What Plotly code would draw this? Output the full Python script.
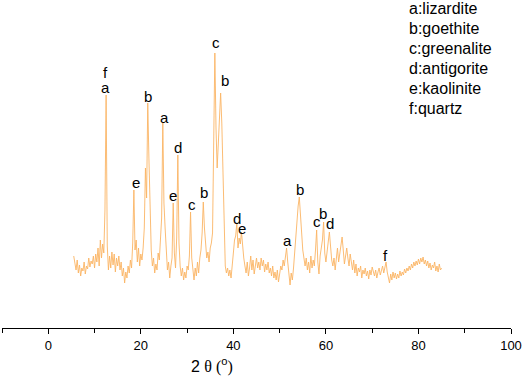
import numpy as np
import plotly.graph_objects as go

# 2-theta scan grid (degrees), step 0.25
theta_start = 5.5
theta_step = 0.25

# Intensity (a.u.)
intensity = [
    72, 66, 58, 68, 55, 63, 52, 60, 57, 66, 54, 62, 59, 70, 61, 67, 64, 72, 60, 74,
    66, 80, 62, 88, 70, 84, 75, 118, 233, 82, 58, 72, 60, 76, 63, 74, 56, 70, 62, 72,
    58, 66, 52, 60, 45, 56, 50, 62, 55, 68, 60, 85, 138, 78, 88, 66, 80, 62, 74, 68,
    80, 100, 160, 130, 225, 170, 110, 78, 62, 70, 55, 64, 58, 75, 68, 90, 110, 205, 125, 100,
    72, 58, 66, 50, 62, 70, 125, 75, 60, 90, 173, 85, 62, 52, 60, 48, 56, 50, 62, 58,
    72, 116, 70, 58, 48, 60, 52, 66, 55, 70, 78, 95, 126, 100, 82, 70, 76, 66, 80, 85,
    95, 170, 275, 200, 160, 185, 215, 235, 205, 150, 90, 62, 55, 60, 52, 58, 50, 68, 75, 88,
    92, 105, 80, 90, 84, 96, 78, 70, 62, 55, 66, 52, 60, 72, 58, 68, 54, 64, 70, 60,
    66, 58, 70, 62, 68, 56, 64, 58, 66, 55, 60, 52, 62, 50, 56, 48, 58, 46, 55, 62,
    58, 68, 62, 75, 80, 66, 50, 43, 55, 48, 60, 75, 95, 112, 122, 131, 110, 92, 78, 70,
    62, 70, 58, 66, 55, 72, 60, 68, 62, 78, 98, 66, 54, 72, 80, 88, 106, 75, 66, 80,
    86, 96, 78, 68, 62, 70, 58, 72, 80, 66, 74, 84, 91, 78, 64, 72, 80, 70, 62, 74,
    66, 58, 68, 55, 64, 52, 60, 56, 62, 50, 58, 54, 60, 52, 57, 49, 58, 53, 61, 55,
    52, 58, 50, 56, 60, 53, 58, 62, 55, 60, 66, 56, 50, 45, 54, 48, 56, 50, 55, 49,
    54, 50, 57, 52, 56, 53, 59, 55, 60, 57, 62, 58, 64, 60, 66, 62, 67, 63, 69, 64,
    70, 66, 71, 64, 68, 62, 67, 60, 65, 58, 63, 60, 66, 57, 62, 56, 64, 58, 60,
]
two_theta = theta_start + theta_step * np.arange(len(intensity))

# Phase labels: (2theta, label y, letter)
label_theta = [12.41, 12.41, 18.96, 21.55, 25.08, 26.96, 27.97, 31.0, 33.66,
               36.25, 38.2, 40.72, 41.87, 51.66, 54.4, 58.0, 59.3, 60.9, 72.93]
label_y = [256, 241, 146, 232, 211, 133, 181, 124, 136,
           286, 248, 110, 100, 88, 139, 107, 115, 105, 73]
label_text = ["f", "a", "e", "b", "a", "e", "d", "c", "b",
              "c", "b", "d", "e", "a", "b", "c", "b", "d", "f"]

phase_key = ["a:lizardite", "b:goethite", "c:greenalite",
             "d:antigorite", "e:kaolinite", "f:quartz"]

fig = go.Figure()
fig.add_trace(go.Scatter(
    x=two_theta, y=intensity, mode="lines",
    line=dict(color="rgb(250,180,100)", width=0.9),
    showlegend=False, hoverinfo="skip",
))

annotations = []
for tx, ty, tt in zip(label_theta, label_y, label_text):
    annotations.append(dict(
        x=tx, y=ty, xref="x", yref="y", text=tt, showarrow=False,
        xanchor="center", yanchor="middle",
        font=dict(family="Liberation Sans, Arial", size=15, color="black"),
    ))

for i, t in enumerate(phase_key):
    py = 8.5 + 20 * i
    annotations.append(dict(
        x=(406.5 - 2) / 509, y=(328 - py) / 300, xref="paper", yref="paper",
        text=t, showarrow=False, xanchor="left", yanchor="middle",
        font=dict(family="Liberation Sans, Arial", size=16, color="black"),
    ))

annotations.append(dict(
    x=(212 - 2) / 509, y=(328 - 365) / 300, xref="paper", yref="paper",
    text="2 <span style='font-family:Liberation Serif'>θ (</span><sup>o</sup><span style='font-family:Liberation Serif'>)</span>",
    showarrow=False, xanchor="center", yanchor="middle",
    font=dict(family="Liberation Sans, Arial", size=16, color="black"),
))

fig.update_layout(
    width=526, height=376,
    margin=dict(l=2, r=15, t=28, b=48),
    paper_bgcolor="white", plot_bgcolor="white",
    annotations=annotations,
    xaxis=dict(
        range=[-10, 100], tickmode="linear", tick0=0, dtick=20,
        showline=True, linecolor="black", linewidth=1,
        ticks="outside", ticklen=5, tickcolor="black", tickwidth=1,
        showgrid=False, zeroline=False,
        tickfont=dict(family="Liberation Sans, Arial", size=13, color="black"),
        minor=dict(dtick=10, tick0=0, ticks="outside", ticklen=4,
                   tickcolor="black", showgrid=False),
    ),
    yaxis=dict(range=[0, 300], visible=False),
)

fig.write_html(
    "out.html",
    config={"displayModeBar": False},
    post_script="document.body.style.margin='0';document.body.style.overflow='hidden';",
)
